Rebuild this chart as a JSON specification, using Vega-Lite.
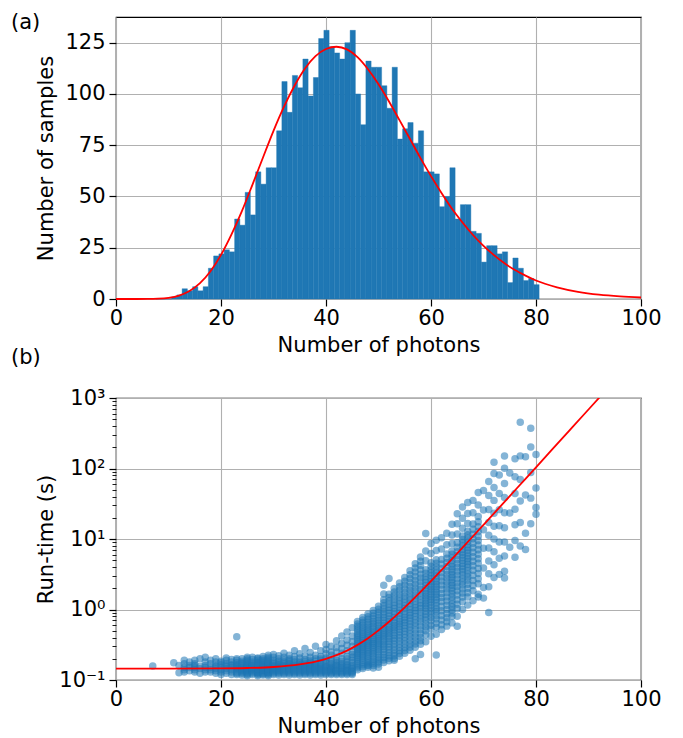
{
"$schema":"https://vega.github.io/schema/vega-lite/v6.json",
"padding":{"left":10,"top":11,"right":5,"bottom":2},
"bounds":"flush",
"spacing":99,
"config":{
"font":"DejaVu Sans",
"view":{"stroke":"black","strokeWidth":1.2},
"axis":{"labelFont":"DejaVu Sans","titleFont":"DejaVu Sans","labelFontSize":21,"titleFontSize":21,"labelColor":"black","titleColor":"black","titleFontWeight":"normal","tickColor":"black","tickSize":7,"tickWidth":1.2,"domain":false,"gridColor":"#b0b0b0","gridWidth":1.1,"zindex":1,"labelFlush":false,"labelOverlap":false,"labelBound":false},
"title":{"font":"DejaVu Sans","fontSize":21,"fontWeight":"normal","color":"black","anchor":"start","frame":"group"}
},
"datasets":{
"hist":[
{"photons":7,"count":1},{"photons":8,"count":0},{"photons":9,"count":0},{"photons":10,"count":0},{"photons":11,"count":1},{"photons":12,"count":2},{"photons":13,"count":5},{"photons":14,"count":4},{"photons":15,"count":6},{"photons":16,"count":4},{"photons":17,"count":6},{"photons":18,"count":15},{"photons":19,"count":21},{"photons":20,"count":22},{"photons":21,"count":24},{"photons":22,"count":23},{"photons":23,"count":39},{"photons":24,"count":36},{"photons":25,"count":52},{"photons":26,"count":41},{"photons":27,"count":62},{"photons":28,"count":56},{"photons":29,"count":64},{"photons":30,"count":64},{"photons":31,"count":82},{"photons":32,"count":106},{"photons":33,"count":91},{"photons":34,"count":109},{"photons":35,"count":103},{"photons":36,"count":117},{"photons":37,"count":99},{"photons":38,"count":108},{"photons":39,"count":127},{"photons":40,"count":131},{"photons":41,"count":123},{"photons":42,"count":120},{"photons":43,"count":117},{"photons":44,"count":125},{"photons":45,"count":131},{"photons":46,"count":100},{"photons":47,"count":85},{"photons":48,"count":116},{"photons":49,"count":113},{"photons":50,"count":113},{"photons":51,"count":104},{"photons":52,"count":93},{"photons":53,"count":113},{"photons":54,"count":78},{"photons":55,"count":83},{"photons":56,"count":86},{"photons":57,"count":76},{"photons":58,"count":82},{"photons":59,"count":62},{"photons":60,"count":62},{"photons":61,"count":61},{"photons":62,"count":45},{"photons":63,"count":50},{"photons":64,"count":64},{"photons":65,"count":39},{"photons":66,"count":46},{"photons":67,"count":46},{"photons":68,"count":33},{"photons":69,"count":32},{"photons":70,"count":18},{"photons":71,"count":26},{"photons":72,"count":26},{"photons":73,"count":22},{"photons":74,"count":23},{"photons":75,"count":8},{"photons":76,"count":20},{"photons":77,"count":15},{"photons":78,"count":9},{"photons":79,"count":10},{"photons":80,"count":7}
],
"fit_a":[
{"x":0,"y":0},{"x":4,"y":0.001},{"x":6,"y":0.02},{"x":8,"y":0.14},{"x":10,"y":0.56},{"x":12,"y":1.65},{"x":14,"y":3.9},{"x":16,"y":7.7},{"x":18,"y":13.5},{"x":20,"y":21.5},{"x":22,"y":31.5},{"x":24,"y":43},{"x":26,"y":55.8},{"x":28,"y":69},{"x":30,"y":82},{"x":32,"y":93.8},{"x":34,"y":104},{"x":36,"y":112.4},{"x":38,"y":118.4},{"x":40,"y":121.9},{"x":42,"y":123},{"x":44,"y":121.7},{"x":46,"y":117.9},{"x":48,"y":112},{"x":50,"y":104.7},{"x":52,"y":96.3},{"x":54,"y":87.2},{"x":56,"y":78},{"x":58,"y":68.7},{"x":60,"y":59.9},{"x":62,"y":51.7},{"x":64,"y":44},{"x":66,"y":37.3},{"x":68,"y":31.2},{"x":70,"y":25.9},{"x":72,"y":21.4},{"x":74,"y":17.4},{"x":76,"y":14.1},{"x":78,"y":11.4},{"x":80,"y":9.0},{"x":84,"y":5.7},{"x":88,"y":3.5},{"x":92,"y":2.1},{"x":96,"y":1.25},{"x":100,"y":0.72}
],
"fit_b":[
{"x":0,"y":0.145},{"x":10,"y":0.145},{"x":20,"y":0.146},{"x":25,"y":0.148},{"x":30,"y":0.153},{"x":35,"y":0.166},{"x":38,"y":0.182},{"x":40,"y":0.2},{"x":42,"y":0.225},{"x":44,"y":0.261},{"x":46,"y":0.315},{"x":48,"y":0.392},{"x":50,"y":0.506},{"x":52,"y":0.671},{"x":54,"y":0.913},{"x":56,"y":1.265},{"x":58,"y":1.78},{"x":60,"y":2.528},{"x":62,"y":3.62},{"x":65,"y":6.27},{"x":68,"y":10.94},{"x":70,"y":15.89},{"x":72,"y":23.1},{"x":75,"y":40.6},{"x":78,"y":71.5},{"x":80,"y":104.1},{"x":83,"y":183.3},{"x":86,"y":322.9},{"x":89,"y":569},{"x":92,"y":1002},{"x":94,"y":1463}
],
"samples":[
{"photons":7,"runtime":0.158},{"photons":11,"runtime":0.176},{"photons":12,"runtime":0.127},{"photons":12,"runtime":0.16},
{"photons":13,"runtime":0.14},{"photons":13,"runtime":0.17},{"photons":13,"runtime":0.15},{"photons":13,"runtime":0.19},{"photons":13,"runtime":0.13},
{"photons":14,"runtime":0.16},{"photons":14,"runtime":0.135},{"photons":14,"runtime":0.18},{"photons":14,"runtime":0.15},
{"photons":15,"runtime":0.15},{"photons":15,"runtime":0.17},{"photons":15,"runtime":0.13},{"photons":15,"runtime":0.19},{"photons":15,"runtime":0.14},{"photons":15,"runtime":0.16},
{"photons":16,"runtime":0.155},{"photons":16,"runtime":0.125},{"photons":16,"runtime":0.2},{"photons":16,"runtime":0.145},
{"photons":17,"runtime":0.16},{"photons":17,"runtime":0.14},{"photons":17,"runtime":0.18},{"photons":17,"runtime":0.13},{"photons":17,"runtime":0.21},{"photons":17,"runtime":0.15},
{"photons":18,"runtime":0.15},{"photons":18,"runtime":0.13},{"photons":18,"runtime":0.17},{"photons":18,"runtime":0.14},{"photons":18,"runtime":0.19},
{"photons":19,"runtime":0.145},{"photons":19,"runtime":0.125},{"photons":19,"runtime":0.16},{"photons":19,"runtime":0.18},{"photons":19,"runtime":0.135},{"photons":19,"runtime":0.2},{"photons":19,"runtime":0.155},
{"photons":20,"runtime":0.14},{"photons":20,"runtime":0.165},{"photons":20,"runtime":0.12},{"photons":20,"runtime":0.15},{"photons":20,"runtime":0.185},{"photons":20,"runtime":0.13},{"photons":20,"runtime":0.175},
{"photons":21,"runtime":0.155},{"photons":21,"runtime":0.135},{"photons":21,"runtime":0.17},{"photons":21,"runtime":0.125},{"photons":21,"runtime":0.19},{"photons":21,"runtime":0.145},{"photons":21,"runtime":0.16},{"photons":21,"runtime":0.205},
{"photons":22,"runtime":0.15},{"photons":22,"runtime":0.13},{"photons":22,"runtime":0.165},{"photons":22,"runtime":0.14},{"photons":22,"runtime":0.18},{"photons":22,"runtime":0.12},{"photons":22,"runtime":0.16},{"photons":22,"runtime":0.195},
{"photons":23,"runtime":0.145},{"photons":23,"runtime":0.16},{"photons":23,"runtime":0.13},{"photons":23,"runtime":0.175},{"photons":23,"runtime":0.15},{"photons":23,"runtime":0.12},{"photons":23,"runtime":0.19},{"photons":23,"runtime":0.14},{"photons":23,"runtime":0.165},{"photons":23,"runtime":0.125},{"photons":23,"runtime":0.2},{"photons":23,"runtime":0.155},{"photons":23,"runtime":0.41},
{"photons":24,"runtime":0.15},{"photons":24,"runtime":0.135},{"photons":24,"runtime":0.17},{"photons":24,"runtime":0.125},{"photons":24,"runtime":0.185},{"photons":24,"runtime":0.145},{"photons":24,"runtime":0.16},{"photons":24,"runtime":0.118},{"photons":24,"runtime":0.2},{"photons":24,"runtime":0.14},{"photons":24,"runtime":0.175},{"photons":24,"runtime":0.13},
{"photons":25,"runtime":0.14},{"photons":25,"runtime":0.155},{"photons":25,"runtime":0.125},{"photons":25,"runtime":0.17},{"photons":25,"runtime":0.15},{"photons":25,"runtime":0.13},{"photons":25,"runtime":0.19},{"photons":25,"runtime":0.145},{"photons":25,"runtime":0.165},{"photons":25,"runtime":0.12},{"photons":25,"runtime":0.21},{"photons":25,"runtime":0.135},{"photons":25,"runtime":0.16},{"photons":25,"runtime":0.18},{"photons":25,"runtime":0.115},{"photons":25,"runtime":0.148},{"photons":25,"runtime":0.2},
{"photons":26,"runtime":0.15},{"photons":26,"runtime":0.13},{"photons":26,"runtime":0.165},{"photons":26,"runtime":0.14},{"photons":26,"runtime":0.18},{"photons":26,"runtime":0.125},{"photons":26,"runtime":0.16},{"photons":26,"runtime":0.195},{"photons":26,"runtime":0.135},{"photons":26,"runtime":0.155},{"photons":26,"runtime":0.12},{"photons":26,"runtime":0.172},{"photons":26,"runtime":0.145},{"photons":26,"runtime":0.21},
{"photons":27,"runtime":0.145},{"photons":27,"runtime":0.16},{"photons":27,"runtime":0.13},{"photons":27,"runtime":0.175},{"photons":27,"runtime":0.15},{"photons":27,"runtime":0.12},{"photons":27,"runtime":0.19},{"photons":27,"runtime":0.14},{"photons":27,"runtime":0.165},{"photons":27,"runtime":0.125},{"photons":27,"runtime":0.205},{"photons":27,"runtime":0.155},{"photons":27,"runtime":0.135},{"photons":27,"runtime":0.18},{"photons":27,"runtime":0.115},{"photons":27,"runtime":0.15},{"photons":27,"runtime":0.17},{"photons":27,"runtime":0.128},{"photons":27,"runtime":0.2},{"photons":27,"runtime":0.142},{"photons":27,"runtime":0.158},
{"photons":28,"runtime":0.15},{"photons":28,"runtime":0.135},{"photons":28,"runtime":0.168},{"photons":28,"runtime":0.125},{"photons":28,"runtime":0.185},{"photons":28,"runtime":0.145},{"photons":28,"runtime":0.16},{"photons":28,"runtime":0.118},{"photons":28,"runtime":0.2},{"photons":28,"runtime":0.14},{"photons":28,"runtime":0.175},{"photons":28,"runtime":0.13},{"photons":28,"runtime":0.155},{"photons":28,"runtime":0.215},{"photons":28,"runtime":0.122},{"photons":28,"runtime":0.165},{"photons":28,"runtime":0.148},{"photons":28,"runtime":0.19},{"photons":28,"runtime":0.138},
{"photons":29,"runtime":0.14},{"photons":29,"runtime":0.155},{"photons":29,"runtime":0.125},{"photons":29,"runtime":0.17},{"photons":29,"runtime":0.15},{"photons":29,"runtime":0.13},{"photons":29,"runtime":0.19},{"photons":29,"runtime":0.145},{"photons":29,"runtime":0.165},{"photons":29,"runtime":0.12},{"photons":29,"runtime":0.21},{"photons":29,"runtime":0.135},{"photons":29,"runtime":0.16},{"photons":29,"runtime":0.18},{"photons":29,"runtime":0.115},{"photons":29,"runtime":0.148},{"photons":29,"runtime":0.2},{"photons":29,"runtime":0.128},{"photons":29,"runtime":0.175},{"photons":29,"runtime":0.142},{"photons":29,"runtime":0.225},
{"photons":30,"runtime":0.15},{"photons":30,"runtime":0.13},{"photons":30,"runtime":0.17},{"photons":30,"runtime":0.12},{"photons":30,"runtime":0.19},{"photons":30,"runtime":0.14},{"photons":30,"runtime":0.16},{"photons":30,"runtime":0.21},{"photons":30,"runtime":0.125},{"photons":30,"runtime":0.155},{"photons":30,"runtime":0.18},{"photons":30,"runtime":0.135},{"photons":30,"runtime":0.23},{"photons":30,"runtime":0.145},
{"photons":31,"runtime":0.145},{"photons":31,"runtime":0.165},{"photons":31,"runtime":0.125},{"photons":31,"runtime":0.185},{"photons":31,"runtime":0.135},{"photons":31,"runtime":0.155},{"photons":31,"runtime":0.2},{"photons":31,"runtime":0.118},{"photons":31,"runtime":0.15},{"photons":31,"runtime":0.175},{"photons":31,"runtime":0.13},{"photons":31,"runtime":0.22},{"photons":31,"runtime":0.14},{"photons":31,"runtime":0.16},
{"photons":32,"runtime":0.15},{"photons":32,"runtime":0.13},{"photons":32,"runtime":0.17},{"photons":32,"runtime":0.12},{"photons":32,"runtime":0.19},{"photons":32,"runtime":0.14},{"photons":32,"runtime":0.16},{"photons":32,"runtime":0.21},{"photons":32,"runtime":0.125},{"photons":32,"runtime":0.155},{"photons":32,"runtime":0.18},{"photons":32,"runtime":0.135},{"photons":32,"runtime":0.24},{"photons":32,"runtime":0.145},
{"photons":33,"runtime":0.14},{"photons":33,"runtime":0.16},{"photons":33,"runtime":0.125},{"photons":33,"runtime":0.18},{"photons":33,"runtime":0.135},{"photons":33,"runtime":0.155},{"photons":33,"runtime":0.2},{"photons":33,"runtime":0.118},{"photons":33,"runtime":0.15},{"photons":33,"runtime":0.17},{"photons":33,"runtime":0.13},{"photons":33,"runtime":0.225},{"photons":33,"runtime":0.145},{"photons":33,"runtime":0.19},
{"photons":34,"runtime":0.15},{"photons":34,"runtime":0.13},{"photons":34,"runtime":0.17},{"photons":34,"runtime":0.12},{"photons":34,"runtime":0.195},{"photons":34,"runtime":0.14},{"photons":34,"runtime":0.16},{"photons":34,"runtime":0.215},{"photons":34,"runtime":0.125},{"photons":34,"runtime":0.155},{"photons":34,"runtime":0.18},{"photons":34,"runtime":0.135},{"photons":34,"runtime":0.26},{"photons":34,"runtime":0.145},
{"photons":35,"runtime":0.145},{"photons":35,"runtime":0.165},{"photons":35,"runtime":0.125},{"photons":35,"runtime":0.185},{"photons":35,"runtime":0.135},{"photons":35,"runtime":0.155},{"photons":35,"runtime":0.205},{"photons":35,"runtime":0.118},{"photons":35,"runtime":0.15},{"photons":35,"runtime":0.175},{"photons":35,"runtime":0.13},{"photons":35,"runtime":0.235},{"photons":35,"runtime":0.14},{"photons":35,"runtime":0.16},
{"photons":36,"runtime":0.15},{"photons":36,"runtime":0.13},{"photons":36,"runtime":0.17},{"photons":36,"runtime":0.12},{"photons":36,"runtime":0.195},{"photons":36,"runtime":0.14},{"photons":36,"runtime":0.16},{"photons":36,"runtime":0.22},{"photons":36,"runtime":0.125},{"photons":36,"runtime":0.155},{"photons":36,"runtime":0.18},{"photons":36,"runtime":0.135},{"photons":36,"runtime":0.28},{"photons":36,"runtime":0.145},
{"photons":37,"runtime":0.14},{"photons":37,"runtime":0.16},{"photons":37,"runtime":0.125},{"photons":37,"runtime":0.18},{"photons":37,"runtime":0.135},{"photons":37,"runtime":0.155},{"photons":37,"runtime":0.21},{"photons":37,"runtime":0.118},{"photons":37,"runtime":0.15},{"photons":37,"runtime":0.17},{"photons":37,"runtime":0.13},{"photons":37,"runtime":0.245},{"photons":37,"runtime":0.145},{"photons":37,"runtime":0.19},
{"photons":38,"runtime":0.15},{"photons":38,"runtime":0.13},{"photons":38,"runtime":0.17},{"photons":38,"runtime":0.12},{"photons":38,"runtime":0.2},{"photons":38,"runtime":0.14},{"photons":38,"runtime":0.16},{"photons":38,"runtime":0.225},{"photons":38,"runtime":0.125},{"photons":38,"runtime":0.155},{"photons":38,"runtime":0.185},{"photons":38,"runtime":0.135},{"photons":38,"runtime":0.3},{"photons":38,"runtime":0.145},
{"photons":39,"runtime":0.145},{"photons":39,"runtime":0.165},{"photons":39,"runtime":0.125},{"photons":39,"runtime":0.19},{"photons":39,"runtime":0.135},{"photons":39,"runtime":0.155},{"photons":39,"runtime":0.215},{"photons":39,"runtime":0.118},{"photons":39,"runtime":0.15},{"photons":39,"runtime":0.175},{"photons":39,"runtime":0.13},{"photons":39,"runtime":0.26},{"photons":39,"runtime":0.14},{"photons":39,"runtime":0.2},
{"photons":40,"runtime":0.15},{"photons":40,"runtime":0.13},{"photons":40,"runtime":0.175},{"photons":40,"runtime":0.12},{"photons":40,"runtime":0.205},{"photons":40,"runtime":0.14},{"photons":40,"runtime":0.16},{"photons":40,"runtime":0.235},{"photons":40,"runtime":0.125},{"photons":40,"runtime":0.155},{"photons":40,"runtime":0.19},{"photons":40,"runtime":0.135},{"photons":40,"runtime":0.32},{"photons":40,"runtime":0.27},
{"photons":41,"runtime":0.145},{"photons":41,"runtime":0.17},{"photons":41,"runtime":0.125},{"photons":41,"runtime":0.195},{"photons":41,"runtime":0.135},{"photons":41,"runtime":0.155},{"photons":41,"runtime":0.225},{"photons":41,"runtime":0.12},{"photons":41,"runtime":0.15},{"photons":41,"runtime":0.18},{"photons":41,"runtime":0.13},{"photons":41,"runtime":0.3},{"photons":41,"runtime":0.14},{"photons":41,"runtime":0.25},
{"photons":42,"runtime":0.15},{"photons":42,"runtime":0.13},{"photons":42,"runtime":0.175},{"photons":42,"runtime":0.12},{"photons":42,"runtime":0.21},{"photons":42,"runtime":0.14},{"photons":42,"runtime":0.165},{"photons":42,"runtime":0.25},{"photons":42,"runtime":0.125},{"photons":42,"runtime":0.16},{"photons":42,"runtime":0.19},{"photons":42,"runtime":0.135},{"photons":42,"runtime":0.36},{"photons":42,"runtime":0.29},
{"photons":43,"runtime":0.145},{"photons":43,"runtime":0.17},{"photons":43,"runtime":0.125},{"photons":43,"runtime":0.2},{"photons":43,"runtime":0.135},{"photons":43,"runtime":0.16},{"photons":43,"runtime":0.24},{"photons":43,"runtime":0.12},{"photons":43,"runtime":0.15},{"photons":43,"runtime":0.185},{"photons":43,"runtime":0.13},{"photons":43,"runtime":0.33},{"photons":43,"runtime":0.28},{"photons":43,"runtime":0.42},
{"photons":44,"runtime":0.15},{"photons":44,"runtime":0.13},{"photons":44,"runtime":0.18},{"photons":44,"runtime":0.12},{"photons":44,"runtime":0.215},{"photons":44,"runtime":0.14},{"photons":44,"runtime":0.165},{"photons":44,"runtime":0.26},{"photons":44,"runtime":0.125},{"photons":44,"runtime":0.16},{"photons":44,"runtime":0.2},{"photons":44,"runtime":0.135},{"photons":44,"runtime":0.37},{"photons":44,"runtime":0.31},{"photons":44,"runtime":0.48},
{"photons":45,"runtime":0.145},{"photons":45,"runtime":0.175},{"photons":45,"runtime":0.125},{"photons":45,"runtime":0.21},{"photons":45,"runtime":0.135},{"photons":45,"runtime":0.16},{"photons":45,"runtime":0.25},{"photons":45,"runtime":0.12},{"photons":45,"runtime":0.15},{"photons":45,"runtime":0.19},{"photons":45,"runtime":0.13},{"photons":45,"runtime":0.3},{"photons":45,"runtime":0.42},{"photons":45,"runtime":0.35},{"photons":45,"runtime":0.55},{"photons":45,"runtime":0.23},
{"photons":46,"runtime":0.14},{"photons":46,"runtime":0.158},{"photons":46,"runtime":0.182},{"photons":46,"runtime":0.209},{"photons":46,"runtime":0.236},{"photons":46,"runtime":0.266},{"photons":46,"runtime":0.295},{"photons":46,"runtime":0.333},{"photons":46,"runtime":0.376},{"photons":46,"runtime":0.432},{"photons":46,"runtime":0.495},{"photons":46,"runtime":0.578},{"photons":46,"runtime":0.676},
{"photons":47,"runtime":0.145},{"photons":47,"runtime":0.164},{"photons":47,"runtime":0.191},{"photons":47,"runtime":0.221},{"photons":47,"runtime":0.251},{"photons":47,"runtime":0.286},{"photons":47,"runtime":0.319},{"photons":47,"runtime":0.363},{"photons":47,"runtime":0.413},{"photons":47,"runtime":0.479},{"photons":47,"runtime":0.555},{"photons":47,"runtime":0.655},{"photons":47,"runtime":0.773},
{"photons":48,"runtime":0.152},{"photons":48,"runtime":0.174},{"photons":48,"runtime":0.202},{"photons":48,"runtime":0.236},{"photons":48,"runtime":0.269},{"photons":48,"runtime":0.308},{"photons":48,"runtime":0.345},{"photons":48,"runtime":0.394},{"photons":48,"runtime":0.452},{"photons":48,"runtime":0.526},{"photons":48,"runtime":0.612},{"photons":48,"runtime":0.728},{"photons":48,"runtime":0.865},{"photons":48,"runtime":0.16},
{"photons":49,"runtime":0.16},{"photons":49,"runtime":0.183},{"photons":49,"runtime":0.215},{"photons":49,"runtime":0.252},{"photons":49,"runtime":0.289},{"photons":49,"runtime":0.332},{"photons":49,"runtime":0.374},{"photons":49,"runtime":0.43},{"photons":49,"runtime":0.493},{"photons":49,"runtime":0.578},{"photons":49,"runtime":0.678},{"photons":49,"runtime":0.809},{"photons":49,"runtime":0.968},{"photons":49,"runtime":0.148},
{"photons":50,"runtime":0.168},{"photons":50,"runtime":0.194},{"photons":50,"runtime":0.229},{"photons":50,"runtime":0.27},{"photons":50,"runtime":0.313},{"photons":50,"runtime":0.361},{"photons":50,"runtime":0.409},{"photons":50,"runtime":0.473},{"photons":50,"runtime":0.547},{"photons":50,"runtime":0.646},{"photons":50,"runtime":0.762},{"photons":50,"runtime":0.918},{"photons":50,"runtime":1.11},{"photons":50,"runtime":0.152},
{"photons":51,"runtime":0.177},{"photons":51,"runtime":0.208},{"photons":51,"runtime":0.249},{"photons":51,"runtime":0.298},{"photons":51,"runtime":0.349},{"photons":51,"runtime":0.409},{"photons":51,"runtime":0.468},{"photons":51,"runtime":0.548},{"photons":51,"runtime":0.643},{"photons":51,"runtime":0.769},{"photons":51,"runtime":0.92},{"photons":51,"runtime":1.13},{"photons":51,"runtime":1.38},{"photons":51,"runtime":2.2},{"photons":51,"runtime":1.66},
{"photons":52,"runtime":0.187},{"photons":52,"runtime":0.221},{"photons":52,"runtime":0.268},{"photons":52,"runtime":0.324},{"photons":52,"runtime":0.384},{"photons":52,"runtime":0.454},{"photons":52,"runtime":0.524},{"photons":52,"runtime":0.619},{"photons":52,"runtime":0.733},{"photons":52,"runtime":0.887},{"photons":52,"runtime":1.07},{"photons":52,"runtime":1.33},{"photons":52,"runtime":1.65},{"photons":52,"runtime":2.76},
{"photons":53,"runtime":0.201},{"photons":53,"runtime":0.24},{"photons":53,"runtime":0.294},{"photons":53,"runtime":0.359},{"photons":53,"runtime":0.428},{"photons":53,"runtime":0.511},{"photons":53,"runtime":0.593},{"photons":53,"runtime":0.706},{"photons":53,"runtime":0.843},{"photons":53,"runtime":1.03},{"photons":53,"runtime":1.26},{"photons":53,"runtime":1.58},{"photons":53,"runtime":1.98},{"photons":53,"runtime":0.19},
{"photons":54,"runtime":0.217},{"photons":54,"runtime":0.261},{"photons":54,"runtime":0.322},{"photons":54,"runtime":0.397},{"photons":54,"runtime":0.478},{"photons":54,"runtime":0.574},{"photons":54,"runtime":0.671},{"photons":54,"runtime":0.807},{"photons":54,"runtime":0.971},{"photons":54,"runtime":1.2},{"photons":54,"runtime":1.48},{"photons":54,"runtime":1.87},{"photons":54,"runtime":2.37},
{"photons":55,"runtime":0.239},{"photons":55,"runtime":0.29},{"photons":55,"runtime":0.36},{"photons":55,"runtime":0.447},{"photons":55,"runtime":0.541},{"photons":55,"runtime":0.655},{"photons":55,"runtime":0.769},{"photons":55,"runtime":0.931},{"photons":55,"runtime":1.13},{"photons":55,"runtime":1.4},{"photons":55,"runtime":1.74},{"photons":55,"runtime":2.22},{"photons":55,"runtime":2.84},
{"photons":56,"runtime":0.264},{"photons":56,"runtime":0.323},{"photons":56,"runtime":0.406},{"photons":56,"runtime":0.509},{"photons":56,"runtime":0.622},{"photons":56,"runtime":0.76},{"photons":56,"runtime":0.902},{"photons":56,"runtime":1.1},{"photons":56,"runtime":1.35},{"photons":56,"runtime":1.69},{"photons":56,"runtime":2.12},{"photons":56,"runtime":2.75},{"photons":56,"runtime":3.55},
{"photons":57,"runtime":0.292},{"photons":57,"runtime":0.36},{"photons":57,"runtime":0.457},{"photons":57,"runtime":0.581},{"photons":57,"runtime":0.716},{"photons":57,"runtime":0.883},{"photons":57,"runtime":1.06},{"photons":57,"runtime":1.3},{"photons":57,"runtime":1.61},{"photons":57,"runtime":2.04},{"photons":57,"runtime":2.59},{"photons":57,"runtime":3.4},{"photons":57,"runtime":4.45},{"photons":57,"runtime":0.2},
{"photons":58,"runtime":0.322},{"photons":58,"runtime":0.401},{"photons":58,"runtime":0.515},{"photons":58,"runtime":0.662},{"photons":58,"runtime":0.824},{"photons":58,"runtime":1.03},{"photons":58,"runtime":1.24},{"photons":58,"runtime":1.54},{"photons":58,"runtime":1.92},{"photons":58,"runtime":2.47},{"photons":58,"runtime":3.17},{"photons":58,"runtime":4.21},{"photons":58,"runtime":5.57},{"photons":58,"runtime":0.23},
{"photons":59,"runtime":0.348},{"photons":59,"runtime":0.437},{"photons":59,"runtime":0.565},{"photons":59,"runtime":0.708},{"photons":59,"runtime":0.859},{"photons":59,"runtime":1.04},{"photons":59,"runtime":1.22},{"photons":59,"runtime":1.44},{"photons":59,"runtime":1.69},{"photons":59,"runtime":1.99},{"photons":59,"runtime":2.41},{"photons":59,"runtime":2.92},{"photons":59,"runtime":3.66},{"photons":59,"runtime":4.9},{"photons":59,"runtime":6.76},{"photons":59,"runtime":12.0},
{"photons":60,"runtime":0.419},{"photons":60,"runtime":0.527},{"photons":60,"runtime":0.686},{"photons":60,"runtime":0.863},{"photons":60,"runtime":1.05},{"photons":60,"runtime":1.28},{"photons":60,"runtime":1.51},{"photons":60,"runtime":1.78},{"photons":60,"runtime":2.1},{"photons":60,"runtime":2.48},{"photons":60,"runtime":3.02},{"photons":60,"runtime":3.67},{"photons":60,"runtime":4.62},{"photons":60,"runtime":6.22},{"photons":60,"runtime":8.65},
{"photons":61,"runtime":0.444},{"photons":61,"runtime":0.562},{"photons":61,"runtime":0.733},{"photons":61,"runtime":0.926},{"photons":61,"runtime":1.13},{"photons":61,"runtime":1.38},{"photons":61,"runtime":1.63},{"photons":61,"runtime":1.93},{"photons":61,"runtime":2.28},{"photons":61,"runtime":2.7},{"photons":61,"runtime":3.29},{"photons":61,"runtime":4.03},{"photons":61,"runtime":5.09},{"photons":61,"runtime":6.88},{"photons":61,"runtime":9.6},{"photons":61,"runtime":0.226},
{"photons":62,"runtime":0.522},{"photons":62,"runtime":0.708},{"photons":62,"runtime":0.957},{"photons":62,"runtime":1.3},{"photons":62,"runtime":1.69},{"photons":62,"runtime":2.22},{"photons":62,"runtime":2.9},{"photons":62,"runtime":3.8},{"photons":62,"runtime":5.14},{"photons":62,"runtime":7.19},{"photons":62,"runtime":10.4},
{"photons":63,"runtime":0.581},{"photons":63,"runtime":0.764},{"photons":63,"runtime":1.0},{"photons":63,"runtime":1.32},{"photons":63,"runtime":1.73},{"photons":63,"runtime":2.2},{"photons":63,"runtime":2.79},{"photons":63,"runtime":3.54},{"photons":63,"runtime":4.65},{"photons":63,"runtime":6.11},{"photons":63,"runtime":8.3},{"photons":63,"runtime":12.1},
{"photons":64,"runtime":0.646},{"photons":64,"runtime":0.798},{"photons":64,"runtime":0.984},{"photons":64,"runtime":1.21},{"photons":64,"runtime":1.5},{"photons":64,"runtime":1.85},{"photons":64,"runtime":2.2},{"photons":64,"runtime":2.62},{"photons":64,"runtime":3.12},{"photons":64,"runtime":3.72},{"photons":64,"runtime":4.43},{"photons":64,"runtime":5.47},{"photons":64,"runtime":6.75},{"photons":64,"runtime":8.61},{"photons":64,"runtime":11.4},{"photons":64,"runtime":16.2},
{"photons":65,"runtime":0.8},{"photons":65,"runtime":1.03},{"photons":65,"runtime":1.38},{"photons":65,"runtime":1.85},{"photons":65,"runtime":2.38},{"photons":65,"runtime":3.08},{"photons":65,"runtime":3.96},{"photons":65,"runtime":5.12},{"photons":65,"runtime":6.61},{"photons":65,"runtime":8.83},{"photons":65,"runtime":11.8},{"photons":65,"runtime":16.4},{"photons":65,"runtime":22.8},{"photons":65,"runtime":0.58},
{"photons":66,"runtime":1.0},{"photons":66,"runtime":1.29},{"photons":66,"runtime":1.72},{"photons":66,"runtime":2.22},{"photons":66,"runtime":2.76},{"photons":66,"runtime":3.44},{"photons":66,"runtime":4.12},{"photons":66,"runtime":4.94},{"photons":66,"runtime":5.93},{"photons":66,"runtime":7.11},{"photons":66,"runtime":8.85},{"photons":66,"runtime":11.0},{"photons":66,"runtime":14.2},{"photons":66,"runtime":19.7},{"photons":66,"runtime":28.4},
{"photons":67,"runtime":1.16},{"photons":67,"runtime":1.5},{"photons":67,"runtime":2.0},{"photons":67,"runtime":2.59},{"photons":67,"runtime":3.21},{"photons":67,"runtime":4.0},{"photons":67,"runtime":4.8},{"photons":67,"runtime":5.76},{"photons":67,"runtime":6.91},{"photons":67,"runtime":8.29},{"photons":67,"runtime":10.3},{"photons":67,"runtime":12.9},{"photons":67,"runtime":16.6},{"photons":67,"runtime":23.0},{"photons":67,"runtime":32.9},
{"photons":68,"runtime":1.33},{"photons":68,"runtime":1.85},{"photons":68,"runtime":2.58},{"photons":68,"runtime":3.6},{"photons":68,"runtime":4.83},{"photons":68,"runtime":6.49},{"photons":68,"runtime":8.71},{"photons":68,"runtime":11.7},{"photons":68,"runtime":16.3},{"photons":68,"runtime":23.6},{"photons":68,"runtime":35.3},
{"photons":69,"runtime":1.5},{"photons":69,"runtime":1.65},{"photons":69,"runtime":2.31},{"photons":69,"runtime":3.23},{"photons":69,"runtime":4.52},{"photons":69,"runtime":6.08},{"photons":69,"runtime":8.2},{"photons":69,"runtime":11.0},{"photons":69,"runtime":14.9},{"photons":69,"runtime":20.8},{"photons":69,"runtime":30.3},{"photons":69,"runtime":45.6},
{"photons":70,"runtime":1.45},{"photons":70,"runtime":2.05},{"photons":70,"runtime":3.89},{"photons":70,"runtime":7.4},{"photons":70,"runtime":13.5},{"photons":70,"runtime":25.7},{"photons":70,"runtime":48.9},
{"photons":71,"runtime":0.91},{"photons":71,"runtime":2.1},{"photons":71,"runtime":3.21},{"photons":71,"runtime":4.88},{"photons":71,"runtime":7.43},{"photons":71,"runtime":11.3},{"photons":71,"runtime":17.2},{"photons":71,"runtime":26.2},{"photons":71,"runtime":41.5},{"photons":71,"runtime":65.6},
{"photons":72,"runtime":2.84},{"photons":72,"runtime":4.32},{"photons":72,"runtime":6.58},{"photons":72,"runtime":10.0},{"photons":72,"runtime":15.2},{"photons":72,"runtime":23.2},{"photons":72,"runtime":35.3},{"photons":72,"runtime":53.8},{"photons":72,"runtime":85.1},{"photons":72,"runtime":123},
{"photons":73,"runtime":3.15},{"photons":73,"runtime":5.35},{"photons":73,"runtime":9.08},{"photons":73,"runtime":15.4},{"photons":73,"runtime":26.1},{"photons":73,"runtime":44.3},{"photons":73,"runtime":81.1},
{"photons":74,"runtime":2.8},{"photons":74,"runtime":3.49},{"photons":74,"runtime":5.74},{"photons":74,"runtime":9.08},{"photons":74,"runtime":14.4},{"photons":74,"runtime":23.6},{"photons":74,"runtime":38.8},{"photons":74,"runtime":61.4},{"photons":74,"runtime":101},{"photons":74,"runtime":150},
{"photons":75,"runtime":7.66},{"photons":75,"runtime":23.4},{"photons":75,"runtime":86.5},
{"photons":76,"runtime":5.5},{"photons":76,"runtime":9.51},{"photons":76,"runtime":15.9},{"photons":76,"runtime":26.5},{"photons":76,"runtime":44.3},{"photons":76,"runtime":76.6},{"photons":76,"runtime":138},
{"photons":77,"runtime":7.98},{"photons":77,"runtime":17.2},{"photons":77,"runtime":34.7},{"photons":77,"runtime":69.8},{"photons":77,"runtime":151},{"photons":77,"runtime":452},
{"photons":78,"runtime":7.1},{"photons":78,"runtime":12.1},{"photons":78,"runtime":42.2},{"photons":78,"runtime":147},
{"photons":79,"runtime":16.5},{"photons":79,"runtime":38},{"photons":79,"runtime":87.7},{"photons":79,"runtime":202},{"photons":79,"runtime":372},
{"photons":80,"runtime":22.4},{"photons":80,"runtime":28},{"photons":80,"runtime":53},{"photons":80,"runtime":158},
{"photons":46,"runtime":0.149},{"photons":46,"runtime":0.17},{"photons":46,"runtime":0.195},{"photons":46,"runtime":0.222},{"photons":46,"runtime":0.25},{"photons":46,"runtime":0.28},{"photons":46,"runtime":0.313},{"photons":46,"runtime":0.354},{"photons":46,"runtime":0.403},{"photons":46,"runtime":0.462},{"photons":46,"runtime":0.535},{"photons":46,"runtime":0.625},
{"photons":47,"runtime":0.154},{"photons":47,"runtime":0.177},{"photons":47,"runtime":0.205},{"photons":47,"runtime":0.236},{"photons":47,"runtime":0.268},{"photons":47,"runtime":0.302},{"photons":47,"runtime":0.34},{"photons":47,"runtime":0.387},{"photons":47,"runtime":0.445},{"photons":47,"runtime":0.516},{"photons":47,"runtime":0.603},{"photons":47,"runtime":0.71},
{"photons":48,"runtime":0.163},{"photons":48,"runtime":0.188},{"photons":48,"runtime":0.218},{"photons":48,"runtime":0.252},{"photons":48,"runtime":0.288},{"photons":48,"runtime":0.326},{"photons":48,"runtime":0.369},{"photons":48,"runtime":0.422},{"photons":48,"runtime":0.488},{"photons":48,"runtime":0.567},{"photons":48,"runtime":0.667},{"photons":48,"runtime":0.79},
{"photons":49,"runtime":0.171},{"photons":49,"runtime":0.198},{"photons":49,"runtime":0.233},{"photons":49,"runtime":0.27},{"photons":49,"runtime":0.31},{"photons":49,"runtime":0.352},{"photons":49,"runtime":0.401},{"photons":49,"runtime":0.46},{"photons":49,"runtime":0.534},{"photons":49,"runtime":0.626},{"photons":49,"runtime":0.74},{"photons":49,"runtime":0.885},
{"photons":50,"runtime":0.18},{"photons":50,"runtime":0.211},{"photons":50,"runtime":0.249},{"photons":50,"runtime":0.291},{"photons":50,"runtime":0.336},{"photons":50,"runtime":0.384},{"photons":50,"runtime":0.44},{"photons":50,"runtime":0.509},{"photons":50,"runtime":0.594},{"photons":50,"runtime":0.702},{"photons":50,"runtime":0.836},{"photons":50,"runtime":1.01},
{"photons":51,"runtime":0.192},{"photons":51,"runtime":0.228},{"photons":51,"runtime":0.272},{"photons":51,"runtime":0.322},{"photons":51,"runtime":0.378},{"photons":51,"runtime":0.437},{"photons":51,"runtime":0.506},{"photons":51,"runtime":0.594},{"photons":51,"runtime":0.703},{"photons":51,"runtime":0.841},{"photons":51,"runtime":1.02},{"photons":51,"runtime":1.25},
{"photons":52,"runtime":0.203},{"photons":52,"runtime":0.243},{"photons":52,"runtime":0.295},{"photons":52,"runtime":0.353},{"photons":52,"runtime":0.418},{"photons":52,"runtime":0.488},{"photons":52,"runtime":0.57},{"photons":52,"runtime":0.674},{"photons":52,"runtime":0.806},{"photons":52,"runtime":0.974},{"photons":52,"runtime":1.19},{"photons":52,"runtime":1.48},
{"photons":53,"runtime":0.22},{"photons":53,"runtime":0.266},{"photons":53,"runtime":0.325},{"photons":53,"runtime":0.392},{"photons":53,"runtime":0.468},{"photons":53,"runtime":0.55},{"photons":53,"runtime":0.647},{"photons":53,"runtime":0.772},{"photons":53,"runtime":0.932},{"photons":53,"runtime":1.14},{"photons":53,"runtime":1.41},{"photons":53,"runtime":1.77},
{"photons":54,"runtime":0.238},{"photons":54,"runtime":0.29},{"photons":54,"runtime":0.358},{"photons":54,"runtime":0.436},{"photons":54,"runtime":0.524},{"photons":54,"runtime":0.621},{"photons":54,"runtime":0.736},{"photons":54,"runtime":0.885},{"photons":54,"runtime":1.08},{"photons":54,"runtime":1.33},{"photons":54,"runtime":1.66},{"photons":54,"runtime":2.1},
{"photons":55,"runtime":0.263},{"photons":55,"runtime":0.323},{"photons":55,"runtime":0.401},{"photons":55,"runtime":0.492},{"photons":55,"runtime":0.595},{"photons":55,"runtime":0.71},{"photons":55,"runtime":0.846},{"photons":55,"runtime":1.03},{"photons":55,"runtime":1.26},{"photons":55,"runtime":1.56},{"photons":55,"runtime":1.97},{"photons":55,"runtime":2.51},
{"photons":56,"runtime":0.292},{"photons":56,"runtime":0.362},{"photons":56,"runtime":0.455},{"photons":56,"runtime":0.563},{"photons":56,"runtime":0.688},{"photons":56,"runtime":0.828},{"photons":56,"runtime":0.996},{"photons":56,"runtime":1.22},{"photons":56,"runtime":1.51},{"photons":56,"runtime":1.89},{"photons":56,"runtime":2.41},{"photons":56,"runtime":3.12},
{"photons":57,"runtime":0.324},{"photons":57,"runtime":0.406},{"photons":57,"runtime":0.515},{"photons":57,"runtime":0.645},{"photons":57,"runtime":0.795},{"photons":57,"runtime":0.967},{"photons":57,"runtime":1.17},{"photons":57,"runtime":1.45},{"photons":57,"runtime":1.81},{"photons":57,"runtime":2.3},{"photons":57,"runtime":2.97},{"photons":57,"runtime":3.89},
{"photons":58,"runtime":0.359},{"photons":58,"runtime":0.455},{"photons":58,"runtime":0.584},{"photons":58,"runtime":0.739},{"photons":58,"runtime":0.921},{"photons":58,"runtime":1.13},{"photons":58,"runtime":1.38},{"photons":58,"runtime":1.72},{"photons":58,"runtime":2.18},{"photons":58,"runtime":2.8},{"photons":58,"runtime":3.65},{"photons":58,"runtime":4.84},
{"photons":59,"runtime":0.5},{"photons":59,"runtime":0.63},{"photons":59,"runtime":0.78},{"photons":59,"runtime":0.945},{"photons":59,"runtime":1.13},{"photons":59,"runtime":1.33},{"photons":59,"runtime":1.56},{"photons":59,"runtime":1.83},{"photons":59,"runtime":2.19},{"photons":59,"runtime":2.65},{"photons":59,"runtime":3.27},
{"photons":60,"runtime":0.6},{"photons":60,"runtime":0.77},{"photons":60,"runtime":0.95},{"photons":60,"runtime":1.16},{"photons":60,"runtime":1.39},{"photons":60,"runtime":1.64},{"photons":60,"runtime":1.93},{"photons":60,"runtime":2.28},{"photons":60,"runtime":2.74},{"photons":60,"runtime":3.33},{"photons":60,"runtime":4.12},
{"photons":61,"runtime":0.64},{"photons":61,"runtime":0.82},{"photons":61,"runtime":1.02},{"photons":61,"runtime":1.25},{"photons":61,"runtime":1.5},{"photons":61,"runtime":1.77},{"photons":61,"runtime":2.1},{"photons":61,"runtime":2.48},{"photons":61,"runtime":2.98},{"photons":61,"runtime":3.64},{"photons":61,"runtime":4.53},
{"photons":62,"runtime":0.61},{"photons":62,"runtime":0.82},{"photons":62,"runtime":1.11},{"photons":62,"runtime":1.48},{"photons":62,"runtime":1.94},{"photons":62,"runtime":2.54},{"photons":62,"runtime":3.32},{"photons":62,"runtime":4.42},
{"photons":63,"runtime":0.67},{"photons":63,"runtime":0.87},{"photons":63,"runtime":1.15},{"photons":63,"runtime":1.51},{"photons":63,"runtime":1.95},{"photons":63,"runtime":2.48},{"photons":63,"runtime":3.14},{"photons":63,"runtime":4.06},{"photons":63,"runtime":5.33},
{"photons":64,"runtime":0.89},{"photons":64,"runtime":1.09},{"photons":64,"runtime":1.35},{"photons":64,"runtime":1.67},{"photons":64,"runtime":2.02},{"photons":64,"runtime":2.4},{"photons":64,"runtime":2.86},{"photons":64,"runtime":3.41},{"photons":64,"runtime":4.06},{"photons":64,"runtime":4.92},{"photons":64,"runtime":6.08},
{"photons":65,"runtime":1.19},{"photons":65,"runtime":1.6},{"photons":65,"runtime":2.1},{"photons":65,"runtime":2.71},{"photons":65,"runtime":3.49},{"photons":65,"runtime":4.5},{"photons":65,"runtime":5.82},{"photons":65,"runtime":7.64},
{"photons":66,"runtime":1.5},{"photons":66,"runtime":1.95},{"photons":66,"runtime":2.48},{"photons":66,"runtime":3.08},{"photons":66,"runtime":3.76},{"photons":66,"runtime":4.51},{"photons":66,"runtime":5.41},{"photons":66,"runtime":6.49},{"photons":66,"runtime":7.93},{"photons":66,"runtime":9.87},
{"photons":67,"runtime":1.73},{"photons":67,"runtime":2.28},{"photons":67,"runtime":2.88},{"photons":67,"runtime":3.58},{"photons":67,"runtime":4.38},{"photons":67,"runtime":5.26},{"photons":67,"runtime":6.31},{"photons":67,"runtime":7.57},{"photons":67,"runtime":9.24},{"photons":67,"runtime":11.5},
{"photons":68,"runtime":2.19},{"photons":68,"runtime":3.05},{"photons":68,"runtime":4.17},{"photons":68,"runtime":5.6},{"photons":68,"runtime":7.52},{"photons":68,"runtime":10.1},{"photons":68,"runtime":13.8},
{"photons":69,"runtime":2.73},{"photons":69,"runtime":3.82},{"photons":69,"runtime":5.24},{"photons":69,"runtime":7.06},{"photons":69,"runtime":9.5},{"photons":69,"runtime":12.8},{"photons":69,"runtime":17.6}
]
},
"vconcat":[
{
"width":525,"height":282,
"title":{"text":"(a)","dx":-105,"dy":32.7,"baseline":"alphabetic","offset":0},
"layer":[
{"data":{"name":"hist"},
"mark":{"type":"bar","color":"#1f77b4","binSpacing":0,"stroke":"#1f77b4","strokeWidth":0.4},
"encoding":{
"x":{"field":"photons","type":"quantitative","bin":{"step":1,"anchor":0.5},"scale":{"domain":[0,100],"nice":false},"axis":{"values":[0,20,40,60,80,100],"labelPadding":1,"titlePadding":6,"grid":true},"title":"Number of photons"},
"y":{"field":"count","type":"quantitative","scale":{"domain":[0,137.5],"nice":false},"axis":{"values":[0,25,50,75,100,125],"labelPadding":4,"titleX":-64,"titleBaseline":"alphabetic"},"title":"Number of samples"}
}},
{"data":{"name":"fit_a"},
"mark":{"type":"line","color":"#ff0000","strokeWidth":1.8,"interpolate":"monotone"},
"encoding":{
"x":{"field":"x","type":"quantitative","title":"Number of photons"},
"y":{"field":"y","type":"quantitative","title":"Number of samples"}
}}
]
},
{
"width":525,"height":282,
"title":{"text":"(b)","dx":-105,"dy":-2,"baseline":"alphabetic","offset":0},
"layer":[
{"data":{"name":"samples"},
"mark":{"type":"circle","color":"#1f77b4","fillOpacity":0.55,"opacity":1,"size":56,"strokeWidth":0},
"encoding":{
"x":{"field":"photons","type":"quantitative","scale":{"domain":[0,100],"nice":false},"axis":{"values":[0,20,40,60,80,100],"labelPadding":1,"titlePadding":6},"title":"Number of photons"},
"y":{"field":"runtime","type":"quantitative","scale":{"type":"log","domain":[0.1,1000],"nice":false},"axis":{"values":[0.1,1,10,100,1000],"labelPadding":4,"titleX":-64,"titleBaseline":"alphabetic","labelExpr":"datum.value < 0.5 ? '10⁻¹' : datum.value < 5 ? '10⁰' : datum.value < 50 ? '10¹' : datum.value < 500 ? '10²' : '10³'"},"title":"Run-time (s)"}
}},
{"data":{"name":"fit_b"},
"mark":{"type":"line","color":"#ff0000","strokeWidth":1.8,"interpolate":"monotone","clip":true},
"encoding":{
"x":{"field":"x","type":"quantitative","title":"Number of photons"},
"y":{"field":"y","type":"quantitative","axis":{"orient":"left","values":[0.2,0.3,0.4,0.5,0.6,0.7,0.8,0.9,2,3,4,5,6,7,8,9,20,30,40,50,60,70,80,90,200,300,400,500,600,700,800,900],"labels":false,"grid":false,"tickSize":4,"tickWidth":0.9,"title":null}}
}}
],
"resolve":{"axis":{"y":"independent"}}
}
]
}
